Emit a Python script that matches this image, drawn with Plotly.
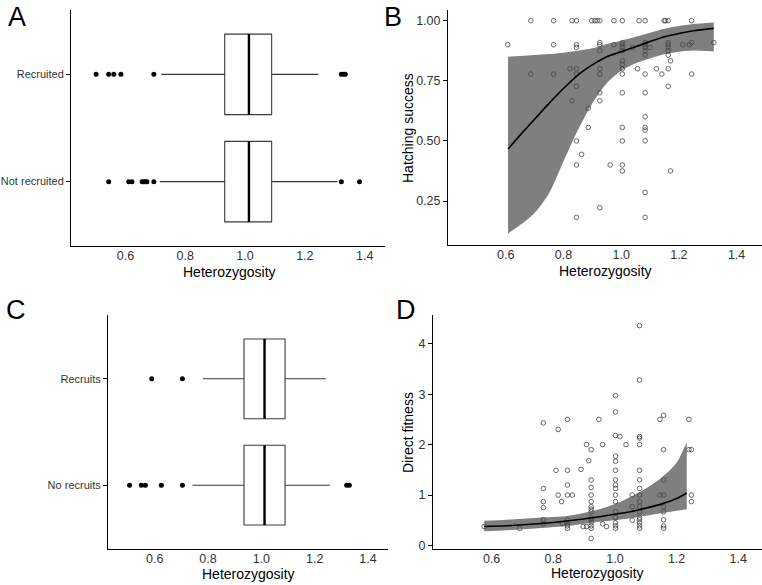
import plotly.graph_objects as go

W, H = 762, 585

# ---------------- Panel A: boxplots (Recruited / Not recruited) ----------------
A_groups = ["Not recruited", "Recruited"]
A_pos = [1, 2]
A_q1 = [0.932, 0.932]
A_median = [1.013, 1.013]
A_q3 = [1.089, 1.089]
A_lower = [0.715, 0.720]
A_upper = [1.309, 1.245]
A_out_not = [0.544, 0.611, 0.622, 0.656, 0.661, 0.667, 0.672, 0.695, 1.322, 1.383]
A_out_rec = [0.502, 0.544, 0.561, 0.585, 0.695, 1.322, 1.330, 1.335]

# ---------------- Panel C: boxplots (Recruits / No recruits) ----------------
C_groups = ["No recruits", "Recruits"]
C_pos = [1, 2]
C_q1 = [0.935, 0.935]
C_median = [1.012, 1.012]
C_q3 = [1.089, 1.089]
C_lower = [0.742, 0.781]
C_upper = [1.257, 1.242]
C_out_no = [0.506, 0.550, 0.565, 0.625, 0.704, 1.320, 1.330]
C_out_rec = [0.589, 0.704]

# ---------------- Panel B: hatching success ----------------
B_cols = {
    0.607: [0.90],
    0.687: [1.0, 0.778],
    0.766: [1.0, 0.90, 0.778],
    0.823: [0.80],
    0.830: [1.0, 0.667],
    0.845: [1.0, 0.90, 0.889, 0.80, 0.778, 0.727, 0.50, 0.40, 0.182],
    0.863: [0.444],
    0.886: [0.636, 0.556],
    0.898: [1.0],
    0.909: [1.0],
    0.917: [1.0],
    0.926: [1.0, 0.909, 0.90, 0.875, 0.80, 0.778, 0.70, 0.667, 0.222],
    0.962: [0.40],
    0.975: [1.0, 0.90],
    1.004: [1.0, 0.909, 0.90, 0.889, 0.875, 0.833, 0.818, 0.80, 0.778, 0.70, 0.556, 0.50, 0.40, 0.375],
    1.040: [0.889],
    1.057: [0.80],
    1.062: [1.0],
    1.083: [1.0, 0.909, 0.90, 0.889, 0.875, 0.857, 0.778, 0.70, 0.60, 0.556, 0.545, 0.50, 0.286, 0.182],
    1.100: [0.889],
    1.122: [0.80],
    1.141: [0.778],
    1.149: [1.0],
    1.154: [1.0],
    1.163: [1.0, 0.909, 0.90, 0.889, 0.875, 0.857, 0.80, 0.727],
    1.171: [0.833, 0.375],
    1.213: [0.90],
    1.236: [0.90],
    1.244: [1.0, 0.909, 0.778],
    1.321: [0.909],
}
B_fit_x = [0.608, 0.65, 0.70, 0.75, 0.80, 0.85, 0.90, 0.95, 1.00, 1.05, 1.10, 1.15, 1.20, 1.25, 1.321]
B_fit_y = [0.466, 0.524, 0.59, 0.656, 0.718, 0.774, 0.816, 0.85, 0.871, 0.892, 0.913, 0.933, 0.947, 0.958, 0.968]
B_fit_lo = [0.115, 0.15, 0.20, 0.282, 0.414, 0.545, 0.656, 0.74, 0.792, 0.823, 0.843, 0.86, 0.871, 0.876, 0.872]
B_fit_hi = [0.85, 0.853, 0.857, 0.861, 0.867, 0.875, 0.885, 0.903, 0.917, 0.933, 0.95, 0.967, 0.978, 0.986, 0.993]

# ---------------- Panel D: direct fitness ----------------
D_cols = {
    0.576: [0.375],
    0.691: [0.336],
    0.768: [2.43, 1.13, 0.87, 0.75, 0.51, 0.43],
    0.809: [1.49],
    0.816: [2.30, 1.0],
    0.827: [0.87],
    0.830: [0.43],
    0.846: [2.5, 1.49, 1.2, 1.0, 0.5, 0.45, 0.39, 0.34],
    0.862: [1.0],
    0.890: [1.51],
    0.897: [0.375],
    0.908: [2.0, 0.375],
    0.915: [1.68],
    0.923: [1.9, 1.3, 1.15, 1.0, 0.87, 0.77, 0.72, 0.67, 0.55, 0.51, 0.45, 0.39, 0.34, 0.14],
    0.948: [2.5],
    0.960: [2.0, 0.43],
    0.973: [0.375],
    1.002: [2.97, 2.65, 2.18, 1.77, 1.67, 1.49, 1.3, 1.2, 1.13, 1.0, 0.87, 0.67, 0.55, 0.45, 0.39, 0.34],
    1.016: [2.16],
    1.036: [2.0],
    1.056: [1.0, 0.77, 0.5],
    1.080: [4.36, 3.28, 2.16, 2.13, 2.0, 1.49, 1.3, 1.13, 1.0, 0.87, 0.77, 0.67, 0.55, 0.51, 0.45, 0.39, 0.34],
    1.146: [2.5, 1.0],
    1.158: [2.58, 1.9, 1.3, 1.0, 0.77, 0.67, 0.51, 0.39, 0.34],
    1.240: [2.5, 1.9],
    1.248: [1.9, 1.0, 0.87],
}
D_fit_x = [0.576, 0.65, 0.75, 0.85, 0.95, 1.00, 1.05, 1.10, 1.15, 1.20, 1.233]
D_fit_y = [0.375, 0.39, 0.43, 0.49, 0.57, 0.62, 0.67, 0.74, 0.82, 0.93, 1.04]
D_fit_hi = [0.49, 0.51, 0.55, 0.59, 0.72, 0.82, 0.96, 1.13, 1.34, 1.64, 2.05]
D_fit_lo = [0.28, 0.30, 0.34, 0.39, 0.47, 0.50, 0.54, 0.59, 0.64, 0.69, 0.72]

het_ticks = [0.6, 0.8, 1.0, 1.2, 1.4]
het_ticktext = ["0.6", "0.8", "1.0", "1.2", "1.4"]
B_yticks = [0.25, 0.50, 0.75, 1.00]
B_yticktext = ["0.25", "0.50", "0.75", "1.00"]
D_yticks = [0, 1, 2, 3, 4]

FONT = "Liberation Sans, Arial, Helvetica, sans-serif"
TICKC = "#333333"
BOXC = "#3a3a3a"
PTC = "#444444"
BANDC = "#7f7f7f"

fig = go.Figure()

def px_dom_x(a, b):
    return [a / W, b / W]

def px_dom_y(top, bottom):
    return [1 - bottom / H, 1 - top / H]

def add_boxes(xa, ya, pos, q1, med, q3, lo, hi, outs, width):
    for i in range(len(pos)):
        fig.add_trace(go.Box(
            y=[pos[i]], q1=[q1[i]], median=[med[i]], q3=[q3[i]],
            lowerfence=[lo[i]], upperfence=[hi[i]], orientation="h",
            width=width, boxpoints=False, fillcolor="white",
            line=dict(color=BOXC, width=1.1), whiskerwidth=0,
            xaxis=xa, yaxis=ya, showlegend=False, hoverinfo="skip"))
        fig.add_trace(go.Scatter(
            x=[med[i], med[i]], y=[pos[i] - width / 2, pos[i] + width / 2],
            mode="lines", line=dict(color="black", width=2.4),
            xaxis=xa, yaxis=ya, showlegend=False, hoverinfo="skip"))
        fig.add_trace(go.Scatter(
            x=outs[i], y=[pos[i]] * len(outs[i]), mode="markers",
            marker=dict(color="black", size=5),
            xaxis=xa, yaxis=ya, showlegend=False, hoverinfo="skip"))

add_boxes("x", "y", A_pos, A_q1, A_median, A_q3, A_lower, A_upper, [A_out_not, A_out_rec], 0.75)
add_boxes("x3", "y3", C_pos, C_q1, C_median, C_q3, C_lower, C_upper, [C_out_no, C_out_rec], 0.75)

def add_fit(xa, ya, cols, fx, fy, flo, fhi):
    fig.add_trace(go.Scatter(x=fx, y=flo, mode="lines", line=dict(width=0, shape="spline", smoothing=0.8),
                             xaxis=xa, yaxis=ya, showlegend=False, hoverinfo="skip"))
    fig.add_trace(go.Scatter(x=fx, y=fhi, mode="lines", line=dict(width=0, shape="spline", smoothing=0.8),
                             fill="tonexty", fillcolor=BANDC,
                             xaxis=xa, yaxis=ya, showlegend=False, hoverinfo="skip"))
    xs, ys = [], []
    for k, v in cols.items():
        for val in v:
            xs.append(k)
            ys.append(val)
    fig.add_trace(go.Scatter(x=xs, y=ys, mode="markers",
                             marker=dict(symbol="circle-open", size=4.6, color=PTC, line=dict(width=0.8)),
                             xaxis=xa, yaxis=ya, showlegend=False, hoverinfo="skip"))
    fig.add_trace(go.Scatter(x=fx, y=fy, mode="lines",
                             line=dict(color="black", width=1.6, shape="spline", smoothing=0.8),
                             xaxis=xa, yaxis=ya, showlegend=False, hoverinfo="skip"))

add_fit("x2", "y2", B_cols, B_fit_x, B_fit_y, B_fit_lo, B_fit_hi)
add_fit("x4", "y4", D_cols, D_fit_x, D_fit_y, D_fit_lo, D_fit_hi)

axis_common = dict(showline=True, linecolor="black", linewidth=1, showgrid=False, zeroline=False,
                   automargin=False)

xaxis_kw = dict(axis_common, ticks="", tickvals=het_ticks, ticktext=het_ticktext,
                ticklabelstandoff=-2,
                tickfont=dict(family=FONT, size=12.5, color=TICKC))
yaxis_kw = dict(axis_common, ticks="outside", ticklen=4, tickcolor="black", tickwidth=1,
                tickfont=dict(family=FONT, size=12.5, color=TICKC))
ycat_font = dict(family=FONT, size=11, color=TICKC)

fig.update_layout(
    width=W, height=H, margin=dict(l=0, r=0, t=0, b=0, pad=0), template="none",
    paper_bgcolor="white", plot_bgcolor="white",
    font=dict(family=FONT, color="black"),
    xaxis=dict(xaxis_kw, domain=px_dom_x(71, 385), range=[0.418, 1.468], anchor="y"),
    yaxis=dict(yaxis_kw, domain=px_dom_y(10, 246), range=[0.4, 2.6], anchor="x",
               tickvals=A_pos, ticktext=A_groups, tickfont=ycat_font),
    xaxis2=dict(xaxis_kw, domain=px_dom_x(448, 762), range=[0.40, 1.488], anchor="y2"),
    yaxis2=dict(yaxis_kw, domain=px_dom_y(10, 245), range=[0.067, 1.0445], anchor="x2",
                tickvals=B_yticks, ticktext=B_yticktext),
    xaxis3=dict(xaxis_kw, domain=px_dom_x(108, 388), range=[0.425, 1.475], anchor="y3"),
    yaxis3=dict(yaxis_kw, domain=px_dom_y(315, 549), range=[0.4, 2.6], anchor="x3",
                tickvals=C_pos, ticktext=C_groups, tickfont=ycat_font),
    xaxis4=dict(xaxis_kw, domain=px_dom_x(433, 762), range=[0.41, 1.477], anchor="y4"),
    yaxis4=dict(yaxis_kw, domain=px_dom_y(315, 549), range=[-0.07, 4.57], anchor="x4",
                tickvals=D_yticks),
)

def ann(text, x, y, size, angle=0):
    fig.add_annotation(text=text, x=x / W, y=1 - y / H, xref="paper", yref="paper",
                       showarrow=False, xanchor="center", yanchor="middle", textangle=angle,
                       font=dict(family=FONT, size=size, color="black"))

ann("Heterozygosity", 229, 272, 14)
ann("Heterozygosity", 605, 271, 14)
ann("Heterozygosity", 248, 574, 14)
ann("Heterozygosity", 597, 573, 14)
ann("Hatching success", 408, 128, 14, -90)
ann("Direct fitness", 408, 433, 14, -90)
ann("A", 17, 17, 27)
ann("B", 393, 17, 27)
ann("C", 16, 310, 27)
ann("D", 406, 310, 27)

fig.write_html("out.html",
               config={"displayModeBar": False},
               post_script="document.body.style.margin='0';document.body.style.padding='0';"
                           "document.body.style.overflow='hidden';")
